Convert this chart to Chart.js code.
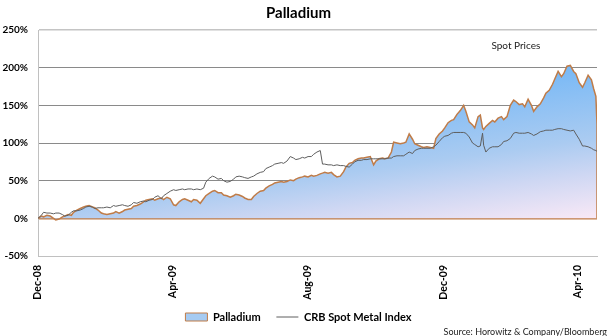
<!DOCTYPE html>
<html lang="en">
<head>
    <meta charset="UTF-8">
    <title>Palladium</title>
    <style>
        html, body { margin: 0; padding: 0; background: #fff; }
    </style>
    <script src="https://cdn.jsdelivr.net/npm/chart.js"></script>
</head>
<body>
    <canvas id="myChart" width="610" height="336"></canvas>

    <script>
        // days since 1 Dec 2008
        const days = [
            0, 3, 5, 8, 11, 14, 16, 19, 22, 24,
            27, 30, 32, 35, 38, 41, 43, 46, 49, 51,
            54, 57, 59, 62, 65, 68, 70, 73, 76, 78,
            81, 84, 86, 89, 92, 95, 97, 100, 103, 105,
            108, 111, 113, 116, 119, 122, 124, 127, 130, 132,
            135, 138, 140, 143, 146, 149, 151, 154, 157, 159,
            162, 165, 167, 170, 173, 176, 178, 181, 184, 186,
            189, 192, 194, 197, 200, 203, 205, 208, 211, 213,
            216, 219, 221, 224, 227, 230, 232, 235, 238, 240,
            243, 246, 248, 251, 254, 256, 258, 261, 264, 266,
            269, 272, 275, 277, 280, 283, 285, 288, 291, 293,
            296, 299, 302, 304, 307, 310, 312, 315, 318, 320,
            323, 326, 329, 331, 334, 337, 339, 342, 345, 347,
            350, 353, 356, 358, 361, 364, 366, 369, 372, 374,
            377, 380, 383, 385, 388, 391, 393, 396, 398, 400,
            401, 403, 406, 409, 411, 414, 417, 419, 422, 425,
            428, 430, 433, 436, 438, 441, 444, 446, 449, 452,
            455, 457, 460, 463, 465, 468, 471, 473, 476, 479,
            482, 484, 487, 490, 492, 495, 498, 500, 502, 503,
            503
        ];

        // % change, Palladium (last point closes the area down to 0)
        const palladium = [
            0, 3, 2, 4, 3, 0, -2, -1, 2, 3,
            5, 4, 8, 11, 13, 15, 16, 17, 15, 14,
            11, 7, 6, 5, 6, 7, 9, 7, 9, 11,
            12, 13, 16, 17, 19, 22, 24, 25, 26, 24,
            26, 27, 25, 28, 26, 18, 17, 22, 25, 26,
            24, 22, 25, 24, 20, 26, 30, 33, 36, 37,
            34, 34, 31, 30, 28, 30, 32, 31, 29, 27,
            25, 25, 29, 33, 36, 37, 40, 43, 45, 47,
            48, 49, 48, 49, 51, 50, 52, 54, 55, 56,
            55, 57, 56, 57, 59, 60, 61, 60, 61, 58,
            55, 56, 62, 68, 73, 74, 77, 79, 80, 80,
            81, 82, 71, 76, 79, 80, 79, 80, 88, 101,
            100, 99, 100, 101, 112, 105, 99, 97, 95, 94,
            95, 94, 93, 106, 112, 116, 120, 127, 130, 131,
            138, 143, 150, 142, 128, 124, 120, 135, 137, 120,
            118, 122, 126, 130, 128, 133, 135, 131, 135, 150,
            157, 155, 151, 152, 148, 158, 150, 142, 148, 152,
            160, 166, 170, 178, 185, 195, 188, 192, 202, 203,
            195, 192, 180, 174, 180, 190, 184, 172, 162, 125,
            0
        ];

        // % change, CRB Spot Metal Index
        const crb = [
            0, 4, 8, 7, 7, 6, 7, 7, 5, 3,
            4, 8, 10, 10, 11, 13, 15, 16, 15, 13,
            14, 14, 14, 15, 14, 17, 16, 17, 18, 17,
            16, 18, 21, 20, 22, 23, 22, 24, 25, 28,
            30, 26, 30, 33, 36, 38, 37, 38, 39, 38,
            39, 39, 38, 39, 38, 40, 48, 53, 56, 55,
            52, 53, 50, 48, 49, 52, 55, 56, 55, 54,
            53, 55, 56, 59, 61, 62, 66, 68, 70, 72,
            73, 74, 73, 76, 82, 80, 78, 79, 81, 80,
            82, 82, 85, 88, 90, 72, 72, 71, 71, 70,
            71, 70, 70, 69, 68, 72, 75, 77, 77, 78,
            78, 79, 79, 79, 79, 79, 79, 80, 80, 82,
            83, 83, 83, 85, 88, 86, 90, 92, 93, 93,
            93, 93, 95, 97, 102, 107, 109, 110, 113, 114,
            114, 114, 114, 113, 108, 100, 98, 95, 96, 113,
            97, 88, 93, 95, 95, 95, 98, 102, 103, 106,
            113, 114, 113, 113, 113, 114, 112, 110, 112, 115,
            116, 117, 117, 117, 118, 119, 119, 118, 117, 116,
            117, 112, 105, 96, 96, 95, 93, 91, 90, 89,
            null
        ];

        const seriesNames = ['Palladium', 'CRB Spot Metal Index'];
        const tickDays = [0, 121, 243, 365, 486];
        const tickLabels = ['Dec-08', 'Apr-09', 'Aug-09', 'Dec-09', 'Apr-10'];
        const yTicks = [-50, 0, 50, 100, 150, 200, 250];
        const chartTitle = 'Palladium';
        const noteText = 'Spot Prices';
        const sourceText = 'Source: Horowitz & Company/Bloomberg';

        const orange = '#c07c48';
        const lineGray = '#5e5e5e';

        Chart.defaults.font.family = 'Lato';
        Chart.defaults.color = '#000';

        // extra texts: "Spot Prices" and the source line
        const notes = {
            id: 'notes',
            afterDraw(chart) {
                const ctx = chart.ctx;
                const x = chart.scales.x;
                const y = chart.scales.y;
                ctx.save();
                ctx.fillStyle = '#222';
                ctx.textBaseline = 'middle';
                ctx.font = '10px Lato';
                ctx.textAlign = 'center';
                ctx.fillText(noteText, x.getPixelForValue(430), y.getPixelForValue(229));
                ctx.font = '9px Lato';
                ctx.textAlign = 'right';
                ctx.fillText(sourceText, chart.width - 3, chart.height - 4);
                ctx.restore();
            }
        };

        // fill goes from strong blue (top / left) to pale pink (bottom right)
        function areaFill(context) {
            const chart = context.chart;
            const area = chart.chartArea;
            if (!area) return '#a6cbf2';
            const g = chart.ctx.createLinearGradient(area.left + 262, area.top + 71, area.left + 283, area.top + 224);
            g.addColorStop(0, 'rgb(118,184,246)');
            g.addColorStop(0.5, 'rgb(170,203,241)');
            g.addColorStop(0.72, 'rgb(206,215,243)');
            g.addColorStop(1, 'rgb(247,232,246)');
            return g;
        }

        const ctx = document.getElementById('myChart').getContext('2d');
        const myChart = new Chart(ctx, {
            type: 'line',
            data: {
                datasets: [{
                    label: seriesNames[0],
                    data: days.map((d, i) => ({ x: d, y: palladium[i] })),
                    borderColor: orange,
                    borderWidth: 1.5,
                    pointRadius: 0,
                    tension: 0,
                    fill: 'origin',
                    order: 2,
                    backgroundColor: areaFill
                }, {
                    label: seriesNames[1],
                    data: days.map((d, i) => ({ x: d, y: crb[i] })),
                    borderColor: lineGray,
                    borderWidth: 1,
                    pointRadius: 0,
                    tension: 0,
                    fill: false,
                    order: 1
                }]
            },
            options: {
                responsive: false,
                animation: false,
                devicePixelRatio: 1,
                layout: { padding: { left: 0, right: 13, top: 4, bottom: 3.5 } },
                plugins: {
                    title: {
                        display: true,
                        text: chartTitle,
                        font: { size: 15, weight: 'bold' },
                        color: '#000',
                        padding: { top: 0, bottom: 8 }
                    },
                    legend: {
                        position: 'bottom',
                        labels: {
                            usePointStyle: true,
                            pointStyleWidth: 22,
                            boxHeight: 8,
                            padding: 7.5,
                            font: { size: 11, weight: 'bold' },
                            generateLabels: function () {
                                return [
                                    // em space widens the gap between the two entries
                                    { text: seriesNames[0] + '\u2003', fillStyle: '#a6cbf2', strokeStyle: orange, lineWidth: 1, pointStyle: 'rect', datasetIndex: 0, fontColor: '#000' },
                                    { text: seriesNames[1], fillStyle: lineGray, strokeStyle: lineGray, lineWidth: 1, pointStyle: 'line', datasetIndex: 1, fontColor: '#000' }
                                ];
                            }
                        }
                    },
                    tooltip: { enabled: false }
                },
                scales: {
                    x: {
                        type: 'linear',
                        min: 0,
                        max: 503,
                        afterBuildTicks: scale => { scale.ticks = tickDays.map(v => ({ value: v })); },
                        afterFit: scale => { scale.height = 48; },
                        grid: { display: false, drawTicks: false },
                        border: { display: true, color: '#c0c0c0' },
                        ticks: {
                            autoSkip: false,
                            minRotation: 90,
                            maxRotation: 90,
                            padding: 9,
                            font: { size: 10.5, weight: 'bold' },
                            callback: value => tickLabels[tickDays.indexOf(value)]
                        }
                    },
                    y: {
                        min: -50,
                        max: 250,
                        afterBuildTicks: scale => { scale.ticks = yTicks.map(v => ({ value: v })); },
                        afterFit: scale => { scale.width = 38; },
                        grid: {
                            drawTicks: false,
                            color: c => c.tick.value === 0 ? orange : (c.tick.value === 250 || c.tick.value === -50 ? '#c4c4c4' : '#8a8a8a'),
                            lineWidth: c => (c.tick.value === 0 || c.tick.value === 250) ? 1.5 : 1
                        },
                        border: { color: '#c0c0c0' },
                        ticks: {
                            padding: 10,
                            font: { size: 10, weight: 'bold' },
                            callback: value => value + '%'
                        }
                    }
                }
            },
            plugins: [notes]
        });
    </script>
</body>
</html>
